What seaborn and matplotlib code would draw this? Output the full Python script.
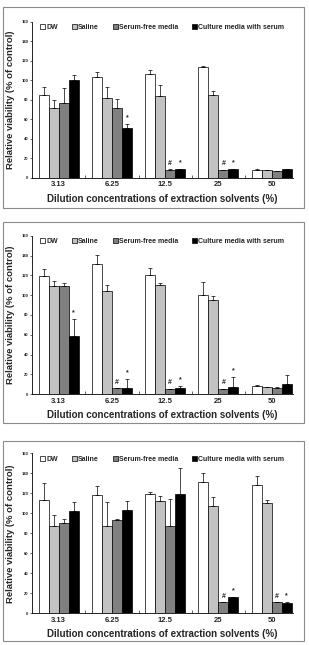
import matplotlib
matplotlib.use('Agg')
import matplotlib.pyplot as plt
from matplotlib.patches import Rectangle
from matplotlib.ticker import FixedLocator, MultipleLocator
import numpy as np
import pandas as pd
import seaborn as sns

sns.set_theme(style='ticks')
plt.rcParams['font.family'] = ['Liberation Sans', 'DejaVu Sans']
plt.rcParams['font.weight'] = 'bold'

CONCS = ['3.13', '6.25', '12.5', '25', '50']
MEDIA = ['DW', 'Saline', 'Serum-free media', 'Culture media with serum']
COLORS = ['white', '#c2c2c2', '#808080', 'black']

# rows follow MEDIA, columns follow CONCS; errors are upper half only
A_MEANS = [[85, 103, 106, 114, 8],
           [71, 82, 84, 85, 7.5],
           [77, 71, 8, 8, 7],
           [100, 51, 9, 9, 9]]
A_ERRS = [[8, 5, 4.5, 1, 0.5],
          [8.5, 11, 11, 4, 0],
          [15, 10, 0.5, 0.3, 0],
          [5.5, 4.5, 0.3, 0.3, 0.3]]
A_MARKS = [('Culture media with serum', '6.25', '*'),
           ('Serum-free media', '12.5', '#'), ('Culture media with serum', '12.5', '*'),
           ('Serum-free media', '25', '#'), ('Culture media with serum', '25', '*')]

B_MEANS = [[119, 131, 120, 100, 8.5],
           [109.5, 104.5, 110, 95, 7.5],
           [109.5, 6, 5.5, 5.5, 6.8],
           [58.5, 6.2, 6.2, 7.7, 10.5]]
B_ERRS = [[7, 9.5, 7.5, 13, 0.5],
          [4.5, 5.5, 2, 4, 0],
          [2.5, 0, 0, 0, 0.6],
          [17, 9, 2, 10, 8.5]]
B_MARKS = [('Culture media with serum', '3.13', '*'),
           ('Serum-free media', '6.25', '#'), ('Culture media with serum', '6.25', '*'),
           ('Serum-free media', '12.5', '#'), ('Culture media with serum', '12.5', '*'),
           ('Serum-free media', '25', '#'), ('Culture media with serum', '25', '*')]

C_MEANS = [[113.5, 118.5, 119, 131, 128.5],
           [87, 87, 112, 107, 110],
           [90, 93, 87, 11, 11],
           [102.5, 103.5, 119, 16, 10.5]]
C_ERRS = [[17, 9, 2, 9.5, 8.5],
          [11, 24, 5.5, 9, 3],
          [4, 1.5, 27.5, 0, 0],
          [8.5, 8.5, 26.5, 0.5, 0.5]]
C_MARKS = [('Serum-free media', '25', '#'), ('Culture media with serum', '25', '*'),
           ('Serum-free media', '50', '#'), ('Culture media with serum', '50', '*')]

W, H = 309, 645
# (axes top, axes bottom, frame top, frame bottom) in pixels from the top
PANELS = [(A_MEANS, A_ERRS, A_MARKS, 21.7, 177.7, 7, 208),
          (B_MEANS, B_ERRS, B_MARKS, 235.7, 394.3, 222, 423),
          (C_MEANS, C_ERRS, C_MARKS, 453.3, 613.3, 441, 641)]


def draw_panel(ax, means, errs, marks):
    df = pd.DataFrame([
        {'conc': c, 'medium': m, 'value': means[i][j], 'err': errs[i][j]}
        for i, m in enumerate(MEDIA) for j, c in enumerate(CONCS)
    ])
    sns.barplot(data=df, x='conc', y='value', hue='medium', order=CONCS,
                hue_order=MEDIA, palette=COLORS, edgecolor='black',
                linewidth=0.5, width=0.75, gap=0, errorbar=None, ax=ax)
    bar_conts = list(ax.containers)
    tops = {}
    for i, cont in enumerate(bar_conts):
        xs = [b.get_x() + b.get_width() / 2 for b in cont]
        ys = [b.get_height() for b in cont]
        e = errs[i]
        ax.errorbar(xs, ys, yerr=[np.zeros(len(e)), e], fmt='none',
                    ecolor='black', elinewidth=0.5, capsize=1.2, capthick=0.5)
        for j, c in enumerate(CONCS):
            tops[(MEDIA[i], c)] = (xs[j], ys[j] + e[j])
    for med, c, sym in marks:
        x, y = tops[(med, c)]
        ax.annotate(sym, (x, y), xytext=(0, 2), textcoords='offset points',
                    ha='center', va='bottom', fontsize=5, fontweight='bold')

    handles, labels = ax.get_legend_handles_labels()
    ax.legend(handles, labels, loc='upper left', bbox_to_anchor=(0.031, 0.985),
              ncol=4, frameon=False, handlelength=0.7,
              handleheight=0.7, handletextpad=0.2, columnspacing=2.0,
              borderpad=0, borderaxespad=0, prop={'weight': 'bold', 'size': 5})

    ax.set_xlim(-0.5, 4.4)
    ax.set_ylim(0, 160)
    ax.yaxis.set_major_locator(MultipleLocator(20))
    ax.xaxis.set_minor_locator(FixedLocator([0.5, 1.5, 2.5, 3.5]))
    ax.tick_params(axis='x', which='major', length=0, pad=2.5, labelsize=5.5)
    ax.tick_params(axis='x', which='minor', length=2.2, width=0.5, direction='in')
    ax.tick_params(axis='y', length=1.5, width=0.5, pad=1, labelsize=3)
    for lab in ax.get_xticklabels() + ax.get_yticklabels():
        lab.set_fontweight('bold')
    for s in ('top', 'right'):
        ax.spines[s].set_visible(False)
    for s in ('left', 'bottom'):
        ax.spines[s].set_linewidth(0.6)
        ax.spines[s].set_color('black')
    ax.set_xlabel('Dilution concentrations of extraction solvents (%)',
                  fontsize=7, fontweight='bold', labelpad=4)
    ax.set_ylabel('Relative viability (% of control)', fontsize=6.8,
                  fontweight='bold', labelpad=5)


fig = plt.figure(figsize=(W / 100, H / 100), dpi=100)
for means, errs, marks, at, ab, ft, fb in PANELS:
    ax = fig.add_axes([32 / W, 1 - ab / H, 261 / W, (ab - at) / H])
    draw_panel(ax, means, errs, marks)
    fig.add_artist(Rectangle((3 / W, 1 - fb / H), 301 / W, (fb - ft) / H,
                             transform=fig.transFigure, fill=False,
                             edgecolor='#8a8a8a', linewidth=0.8))

fig.savefig('out.png', dpi=100)
